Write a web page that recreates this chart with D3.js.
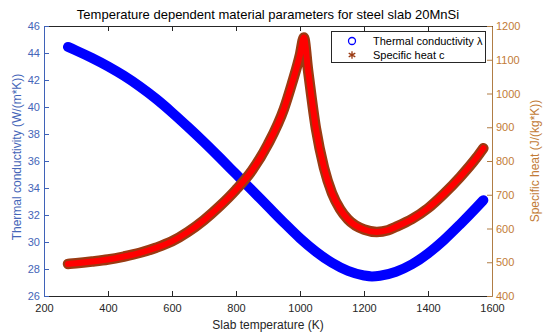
<!DOCTYPE html>
<html>
<head>
<meta charset="utf-8">
<script src="https://cdn.jsdelivr.net/npm/d3@7"></script>
<style>
  body { margin: 0; background: #fff; }
  svg { display: block; font-family: "Liberation Sans", Arial, sans-serif; }
  .tick text { font-size: 11px; }
</style>
</head>
<body>
<svg id="chart" width="550" height="336"></svg>
<script>
// slab temperature (K) and the two material curves
const tempK   = [275, 300, 350, 400, 450, 500, 550, 600, 650, 700, 750, 800, 850, 900, 950, 1000, 1050, 1100, 1150, 1200, 1225, 1250, 1300, 1350, 1400, 1450, 1500, 1550, 1573];
const lambda  = [44.45, 44.19, 43.63, 43.01, 42.31, 41.51, 40.61, 39.6, 38.52, 37.4, 36.23, 35.03, 33.83, 32.63, 31.43, 30.28, 29.28, 28.46, 27.86, 27.52, 27.45, 27.5, 27.8, 28.35, 29.15, 30.15, 31.3, 32.52, 33.1];

const tempC   = [275, 300, 350, 400, 450, 500, 550, 600, 650, 700, 750, 800, 850, 900, 950, 975, 1000, 1012, 1025, 1050, 1075, 1100, 1125, 1150, 1200, 1240, 1275, 1300, 1350, 1400, 1450, 1500, 1550, 1573];
const heatC   = [495, 497, 502, 508, 517, 528, 543, 562, 590, 625, 667, 715, 772, 850, 955, 1030, 1115, 1166, 1070, 895, 780, 705, 658, 627, 597, 590, 595, 605, 628, 660, 703, 752, 808, 838];

const xTicks = [200, 400, 600, 800, 1000, 1200, 1400, 1600];
const yLeftTicks = [26, 28, 30, 32, 34, 36, 38, 40, 42, 44, 46];
const yRightTicks = [400, 500, 600, 700, 800, 900, 1000, 1100, 1200];

const L = 44, R = 492, T = 26, B = 296;
const leftCol = "#3f62b8", rightCol = "#b07d45", rightTxt = "#c27b36", darkAx = "#262626";

const svg = d3.select("#chart");
const x = d3.scaleLinear().domain([200, 1600]).range([L, R]);
const yl = d3.scaleLinear().domain([26, 46]).range([B, T]);
const yr = d3.scaleLinear().domain([400, 1200]).range([B, T]);
const fmt = d3.format("d");

// curves
const lineL = d3.line().x((d) => x(d[0])).y((d) => yl(d[1])).curve(d3.curveMonotoneX);
const lineR = d3.line().x((d) => x(d[0])).y((d) => yr(d[1])).curve(d3.curveMonotoneX);
const ptsL = tempK.map((t, i) => [t, lambda[i]]);
const ptsR = tempC.map((t, i) => [t, heatC[i]]);

svg.append("path").attr("d", lineL(ptsL))
  .attr("fill", "none").attr("stroke", "#0000ff").attr("stroke-width", 10)
  .attr("stroke-linecap", "round").attr("stroke-linejoin", "round");
svg.append("path").attr("d", lineR(ptsR))
  .attr("fill", "none").attr("stroke", "#9a3a12").attr("stroke-width", 10.5)
  .attr("stroke-linecap", "round").attr("stroke-linejoin", "round");
svg.append("path").attr("d", lineR(ptsR))
  .attr("fill", "none").attr("stroke", "#ff0000").attr("stroke-width", 6)
  .attr("stroke-linecap", "round").attr("stroke-linejoin", "round");

// axes
const style = (g, col, txt) => {
  g.select(".domain").attr("stroke", col);
  g.selectAll(".tick line").attr("stroke", col);
  g.selectAll(".tick text").attr("fill", txt).attr("font-family", null).attr("font-size", null);
};
svg.append("g").attr("transform", `translate(0,${B})`)
  .call(d3.axisBottom(x).tickValues(xTicks).tickFormat(fmt).tickSize(-5).tickPadding(8).tickSizeOuter(0))
  .call((g) => style(g, darkAx, "#262626"));
svg.append("g").attr("transform", `translate(0,${T})`)
  .call(d3.axisTop(x).tickValues(xTicks).tickSize(-5).tickFormat("").tickSizeOuter(0))
  .call((g) => style(g, darkAx, "#262626"));
svg.append("g").attr("transform", `translate(${L},0)`)
  .call(d3.axisLeft(yl).tickValues(yLeftTicks).tickFormat(fmt).tickSize(-5).tickPadding(4).tickSizeOuter(0))
  .call((g) => style(g, leftCol, "#4565b8"));
svg.append("g").attr("transform", `translate(${R},0)`)
  .call(d3.axisRight(yr).tickValues(yRightTicks).tickFormat(fmt).tickSize(-5).tickPadding(4).tickSizeOuter(0))
  .call((g) => style(g, rightCol, rightTxt));

// titles
svg.append("text").attr("x", (L + R) / 2).attr("y", 19).attr("text-anchor", "middle")
  .attr("font-size", 13).attr("fill", "#000")
  .text("Temperature dependent material parameters for steel slab 20MnSi");
svg.append("text").attr("x", (L + R) / 2).attr("y", 329).attr("text-anchor", "middle")
  .attr("font-size", 12).attr("fill", "#262626").text("Slab temperature (K)");
svg.append("text").attr("transform", `translate(21,${(T + B) / 2 - 4}) rotate(-90)`)
  .attr("text-anchor", "middle").attr("font-size", 12).attr("fill", "#4565b8")
  .text("Thermal conductivity (W/(m*K))");
svg.append("text").attr("transform", `translate(539,${(T + B) / 2}) rotate(-90)`)
  .attr("text-anchor", "middle").attr("font-size", 12).attr("fill", rightTxt)
  .text("Specific heat (J/(kg*K))");

// legend
const lg = svg.append("g");
lg.append("rect").attr("x", 331.5).attr("y", 31.5).attr("width", 154).attr("height", 31)
  .attr("fill", "#fff").attr("stroke", "#262626").attr("stroke-width", 1);
lg.append("circle").attr("cx", 352).attr("cy", 41).attr("r", 3.5)
  .attr("fill", "none").attr("stroke", "#0000ff").attr("stroke-width", 1.3);
lg.append("path").attr("d", d3.symbol(d3.symbolAsterisk, 40)())
  .attr("transform", "translate(352,55)").attr("stroke", "#9a3a12").attr("stroke-width", 1.3);
lg.append("text").attr("x", 373).attr("y", 45).attr("font-size", 11).attr("fill", "#000")
  .text("Thermal conductivity  λ");
lg.append("text").attr("x", 373).attr("y", 59).attr("font-size", 11).attr("fill", "#000")
  .text("Specific heat c");
</script>
</body>
</html>
